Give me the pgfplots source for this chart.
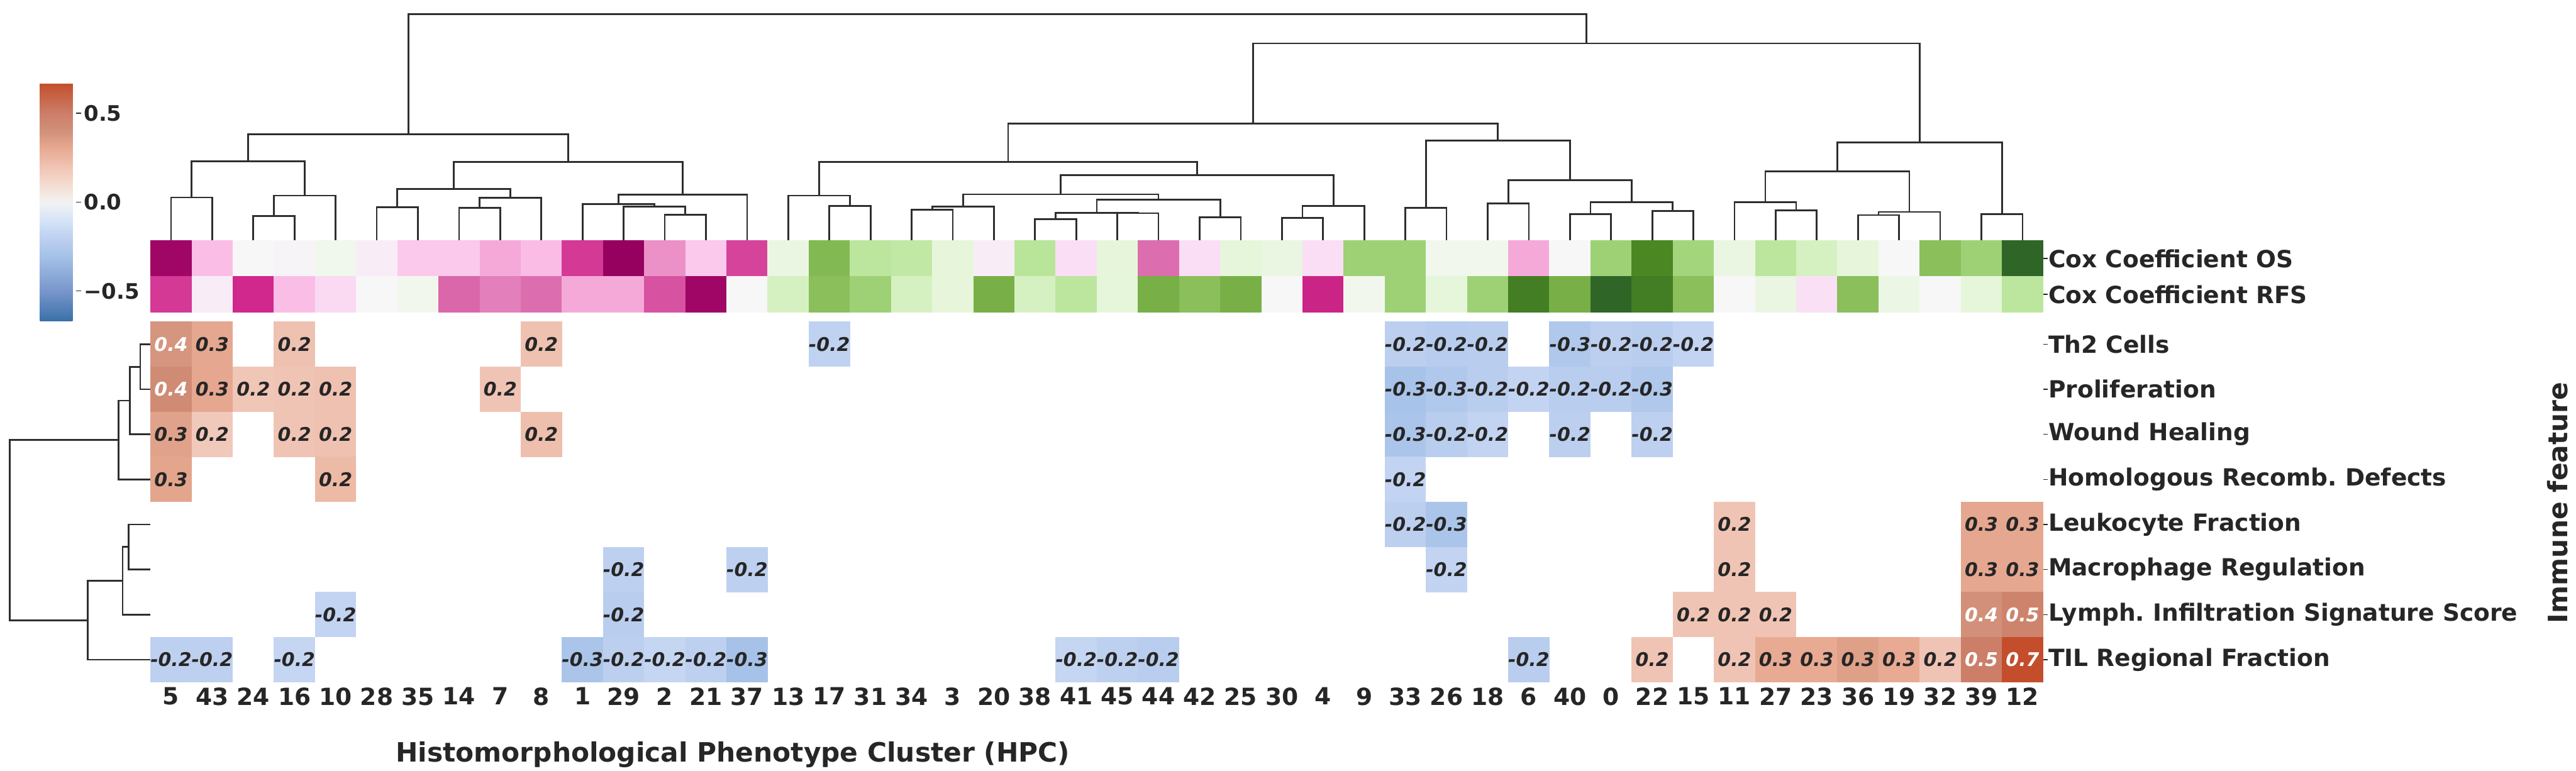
\documentclass[border=0pt]{standalone}
\usepackage{fontspec}
\setmainfont{DejaVu Sans}[
  BoldFont={DejaVu Sans Bold},
  ItalicFont={DejaVu Sans Oblique},
  BoldItalicFont={DejaVu Sans Bold Oblique}]
\usepackage{pgfplots}
\usepackage{pgfplotstable}
\pgfplotsset{compat=1.18}
\usetikzlibrary{calc}
\frenchspacing

% 1 px of the reference = 0.06 mm
\definecolor{txt}{HTML}{262626}
\definecolor{dgray}{HTML}{2e2e2e}

\newcommand\lblfont{\fontsize{10.3}{12}\selectfont\bfseries}
\newcommand\axfont{\fontsize{11.6}{14}\selectfont\bfseries}
\newcommand\cbfont{\fontsize{9.3}{11}\selectfont\bfseries}
\newcommand\annfont{\fontsize{8.2}{10}\selectfont\bfseries\itshape}

% cells: 105 x 115 px (heatmap), 105 x 91.5 px (cox rows)
\pgfdeclareplotmark{hcell}{\pgfpathrectangle{\pgfpoint{-3.16mm}{-3.46mm}}{\pgfpoint{6.32mm}{6.92mm}}\pgfusepathqfill}
\pgfdeclareplotmark{ccell}{\pgfpathrectangle{\pgfpoint{-3.16mm}{-2.755mm}}{\pgfpoint{6.32mm}{5.51mm}}\pgfusepathqfill}

\pgfplotsset{
  colormap={hm}{rgb255(0pt)=(58,112,168); rgb255(17pt)=(120,150,204);
    rgb255(37pt)=(166,194,232); rgb255(47pt)=(190,208,240); rgb255(57pt)=(214,228,248);
    rgb255(67pt)=(242,242,242); rgb255(77pt)=(244,220,208); rgb255(87pt)=(240,196,180);
    rgb255(97pt)=(232,170,146); rgb255(107pt)=(210,144,122); rgb255(117pt)=(204,126,104);
    rgb255(134pt)=(196,78,44)},
  colormap={piyg}{rgb255(0pt)=(150,0,95); rgb255(1pt)=(208,40,140); rgb255(2pt)=(220,110,175);
    rgb255(3pt)=(250,180,225); rgb255(4pt)=(250,222,245); rgb255(5pt)=(247,247,247);
    rgb255(6pt)=(225,246,210); rgb255(7pt)=(175,225,140); rgb255(8pt)=(125,180,75);
    rgb255(9pt)=(75,135,35); rgb255(10pt)=(42,96,40)},
  dendroline/.style={dgray, line width=0.75pt, point meta=none},
  hmcellsty/.style={scatter, only marks, mark=hcell, point meta=explicit,
    scatter/use mapped color={fill=mapped color}},
  hmlabsty/.style={only marks, mark=none, point meta=explicit symbolic,
    nodes near coords,
    every node near coord/.append style={anchor=center, font=\annfont, text=#1}},
}

% top dendrogram: x_left, y_left, x_right, y_right, y_node (y in px from top)
\newcommand{\dendTop}[5]{\addplot[dendroline] coordinates {(#1,#2) (#1,#5) (#3,#5) (#3,#4)};}
% left dendrogram: row_a, x_a, row_b, x_b, x_node
\newcommand{\dendLeft}[5]{\addplot[dendroline] coordinates {(#2,#1) (#5,#1) (#5,#3) (#4,#3)};}

% immune feature correlations (k = column position, r = row), dark labels
\pgfplotstableread{
k r v t
1 0 0.31 0.3
3 0 0.21 0.2
9 0 0.21 0.2
16 0 -0.19 -0.2
30 0 -0.21 -0.2
31 0 -0.23 -0.2
32 0 -0.22 -0.2
34 0 -0.26 -0.3
35 0 -0.21 -0.2
36 0 -0.22 -0.2
37 0 -0.18 -0.2
1 1 0.31 0.3
2 1 0.19 0.2
3 1 0.20 0.2
4 1 0.21 0.2
8 1 0.20 0.2
30 1 -0.29 -0.3
31 1 -0.26 -0.3
32 1 -0.22 -0.2
33 1 -0.18 -0.2
34 1 -0.22 -0.2
35 1 -0.22 -0.2
36 1 -0.26 -0.3
0 2 0.33 0.3
1 2 0.18 0.2
3 2 0.20 0.2
4 2 0.21 0.2
9 2 0.22 0.2
30 2 -0.28 -0.3
31 2 -0.22 -0.2
32 2 -0.18 -0.2
34 2 -0.21 -0.2
36 2 -0.20 -0.2
0 3 0.32 0.3
4 3 0.24 0.2
30 3 -0.18 -0.2
30 4 -0.21 -0.2
31 4 -0.28 -0.3
38 4 0.20 0.2
44 4 0.31 0.3
45 4 0.31 0.3
11 5 -0.20 -0.2
14 5 -0.20 -0.2
31 5 -0.18 -0.2
38 5 0.20 0.2
44 5 0.31 0.3
45 5 0.31 0.3
4 6 -0.18 -0.2
11 6 -0.22 -0.2
37 6 0.20 0.2
38 6 0.20 0.2
39 6 0.20 0.2
0 7 -0.20 -0.2
1 7 -0.20 -0.2
3 7 -0.17 -0.2
10 7 -0.28 -0.3
11 7 -0.21 -0.2
12 7 -0.17 -0.2
13 7 -0.20 -0.2
14 7 -0.30 -0.3
22 7 -0.17 -0.2
23 7 -0.20 -0.2
24 7 -0.22 -0.2
33 7 -0.22 -0.2
36 7 0.20 0.2
38 7 0.20 0.2
39 7 0.30 0.3
40 7 0.30 0.3
41 7 0.34 0.3
42 7 0.30 0.3
43 7 0.20 0.2
}\hmdata

% cells with white labels
\pgfplotstableread{
k r v t
0 0 0.38 0.4
0 1 0.43 0.4
44 6 0.40 0.4
45 6 0.47 0.5
44 7 0.50 0.5
45 7 0.70 0.7
}\hmwdata

% cox coefficients per column position
\pgfplotstableread{
k os rfs
0 -0.97 -0.75
1 -0.35 -0.08
2 0.00 -0.80
3 -0.02 -0.35
4 0.06 -0.22
5 -0.08 0.00
6 -0.30 0.05
7 -0.30 -0.62
8 -0.43 -0.55
9 -0.36 -0.60
10 -0.75 -0.43
11 -1.00 -0.43
12 -0.50 -0.68
13 -0.30 -0.97
14 -0.72 0.00
15 0.12 0.25
16 0.58 0.55
17 0.35 0.47
18 0.33 0.25
19 0.15 0.15
20 -0.08 0.62
21 0.36 0.25
22 -0.20 0.35
23 0.15 0.16
24 -0.60 0.62
25 -0.20 0.55
26 0.16 0.62
27 0.12 0.00
28 -0.20 -0.82
29 0.47 0.05
30 0.47 0.47
31 0.05 0.16
32 0.05 0.47
33 -0.43 0.85
34 0.00 0.62
35 0.47 0.97
36 0.80 0.85
37 0.45 0.55
38 0.12 0.00
39 0.35 0.12
40 0.25 -0.18
41 0.15 0.55
42 0.00 0.10
43 0.55 0.00
44 0.47 0.16
45 0.97 0.35
}\coxdata

\begin{document}
\begin{tikzpicture}
\useasboundingbox (0,0) rectangle (394.44mm,118.02mm);

% column dendrogram
\begin{axis}[
  at={(23.04mm,118.02mm)}, anchor=north west,
  scale only axis, width=289.8mm, height=36.84mm,
  xmin=-0.5, xmax=45.5, ymin=0, ymax=614,
  y filter/.expression={614-y},
  hide axis, clip=false,
]
\dendTop{0}{614}{1}{614}{504}
\dendTop{2}{614}{3}{614}{551}
\dendTop{2.5}{551}{4}{614}{499}
\dendTop{0.5}{504}{3.25}{499}{412}
\dendTop{5}{614}{6}{614}{529}
\dendTop{7}{614}{8}{614}{531}
\dendTop{7.5}{531}{9}{614}{505}
\dendTop{5.5}{529}{8.25}{505}{482}
\dendTop{12}{614}{13}{614}{548}
\dendTop{11}{614}{12.5}{548}{527}
\dendTop{10}{614}{11.75}{527}{521}
\dendTop{10.875}{521}{14}{614}{497}
\dendTop{6.875}{482}{12.4375}{497}{413}
\dendTop{1.875}{412}{9.65625}{413}{343}
\dendTop{16}{614}{17}{614}{526}
\dendTop{15}{614}{16.5}{526}{499}
\dendTop{18}{614}{19}{614}{535}
\dendTop{18.5}{535}{20}{614}{527}
\dendTop{21}{614}{22}{614}{559}
\dendTop{23}{614}{24}{614}{544}
\dendTop{21.5}{559}{23.5}{544}{543}
\dendTop{25}{614}{26}{614}{554}
\dendTop{22.5}{543}{25.5}{554}{510}
\dendTop{19.25}{527}{24}{510}{496}
\dendTop{27}{614}{28}{614}{556}
\dendTop{27.5}{556}{29}{614}{526}
\dendTop{21.625}{496}{28.25}{526}{447}
\dendTop{15.75}{499}{24.9375}{447}{413}
\dendTop{30}{614}{31}{614}{531}
\dendTop{32}{614}{33}{614}{519}
\dendTop{34}{614}{35}{614}{547}
\dendTop{36}{614}{37}{614}{538}
\dendTop{34.5}{547}{36.5}{538}{516}
\dendTop{32.5}{519}{35.5}{516}{460}
\dendTop{30.5}{531}{34}{460}{359}
\dendTop{20.34375}{413}{32.25}{359}{315}
\dendTop{39}{614}{40}{614}{537}
\dendTop{38}{614}{39.5}{537}{516}
\dendTop{41}{614}{42}{614}{549}
\dendTop{41.5}{549}{43}{614}{541}
\dendTop{38.75}{516}{42.25}{541}{438}
\dendTop{44}{614}{45}{614}{547}
\dendTop{40.5}{438}{44.5}{547}{364}
\dendTop{26.296875}{315}{42.5}{364}{111}
\dendTop{5.765625}{343}{34.3984}{111}{36}
\end{axis}

% row dendrogram
\begin{axis}[
  at={(0mm,68.76mm)}, anchor=north west,
  scale only axis, width=23.04mm, height=55.2mm,
  xmin=0, xmax=384, ymin=-0.5, ymax=7.5,
  y filter/.expression={7-y},
  hide axis, clip=false,
]
\dendLeft{0}{384}{1}{384}{358}
\dendLeft{0.5}{358}{2}{384}{331}
\dendLeft{1.25}{331}{3}{384}{302}
\dendLeft{4}{384}{5}{384}{328}
\dendLeft{4.5}{328}{6}{384}{313}
\dendLeft{5.25}{313}{7}{384}{224}
\dendLeft{2.125}{302}{6.125}{224}{25}
\end{axis}

% cox coefficient rows
\begin{axis}[
  at={(23.04mm,81.18mm)}, anchor=north west,
  scale only axis, width=289.8mm, height=10.98mm,
  xmin=-0.5, xmax=45.5, ymin=-0.5, ymax=1.5,
  axis line style={draw=none}, clip=false,
  xtick=\empty,
  ytick={0,1}, yticklabels={Cox Coefficient RFS, Cox Coefficient OS},
  ytick pos=right, yticklabel pos=right,
  yticklabel style={font=\lblfont, text=txt, inner sep=0pt, anchor=west},
  tick align=outside, major tick length=0.75mm,
  tick style={txt, line width=0.35pt},
  colormap name=piyg, point meta min=-1, point meta max=1,
]
\addplot[scatter, only marks, mark=ccell, point meta=\thisrow{os},
  scatter/use mapped color={fill=mapped color}]
  table[x=k, y expr=1] {\coxdata};
\addplot[scatter, only marks, mark=ccell, point meta=\thisrow{rfs},
  scatter/use mapped color={fill=mapped color}]
  table[x=k, y expr=0] {\coxdata};
\end{axis}

% immune feature heatmap
\begin{axis}[
  at={(23.04mm,68.76mm)}, anchor=north west,
  scale only axis, width=289.8mm, height=55.2mm,
  xmin=-0.5, xmax=45.5, ymin=-0.5, ymax=7.5,
  y filter/.expression={7-y},
  axis line style={draw=none}, clip=false,
  xtick={0,...,45},
  xticklabels={5,43,24,16,10,28,35,14,7,8,1,29,2,21,37,13,17,31,34,3,20,38,41,45,44,42,25,30,4,9,33,26,18,6,40,0,22,15,11,27,23,36,19,32,39,12},
  ytick={0,...,7},
  yticklabels={TIL Regional Fraction, Lymph. Infiltration Signature Score, Macrophage Regulation, Leukocyte Fraction, Homologous Recomb. Defects, Wound Healing, Proliferation, Th2 Cells},
  xtick pos=left, ytick pos=right, yticklabel pos=right,
  xticklabel style={font=\lblfont, text=txt, inner sep=0pt, anchor=north},
  yticklabel style={font=\lblfont, text=txt, inner sep=0pt, anchor=west},
  tick align=outside, major tick length=0.75mm,
  tick style={txt, line width=0.35pt},
  xtick style={draw=none},
  colormap name=hm, point meta min=-0.67, point meta max=0.67,
  colorbar,
  colorbar shift/.style={xshift=0pt},
  colorbar style={
    at={($(parent axis.north west)+(-16.92mm,36.54mm)$)}, anchor=north west,
    scale only axis, width=5.58mm, height=36.48mm,
    ytick={-0.5,0,0.5}, yticklabels={−0.5,0.0,0.5},
    ytick pos=right, yticklabel pos=right,
    yticklabel style={font=\cbfont, text=txt, inner sep=0pt, anchor=west, xshift=0.36mm},
    tick align=outside, major tick length=0.72mm,
    tick style={txt, line width=0.35pt},
    axis line style={draw=none},
  },
]
\addplot[hmcellsty] table[x=k, y=r, meta=v] {\hmdata};
\addplot[hmcellsty] table[x=k, y=r, meta=v] {\hmwdata};
\addplot[hmlabsty=txt] table[x=k, y=r, meta=t] {\hmdata};
\addplot[hmlabsty=white] table[x=k, y=r, meta=t] {\hmwdata};
\end{axis}

\node[font=\axfont, text=txt, anchor=base] at (112.2mm,1.32mm)
  {Histomorphological Phenotype Cluster (HPC)};
\node[font=\axfont, text=txt, anchor=base, rotate=90] at (393.1mm,41.04mm)
  {Immune feature};
\end{tikzpicture}
\end{document}
